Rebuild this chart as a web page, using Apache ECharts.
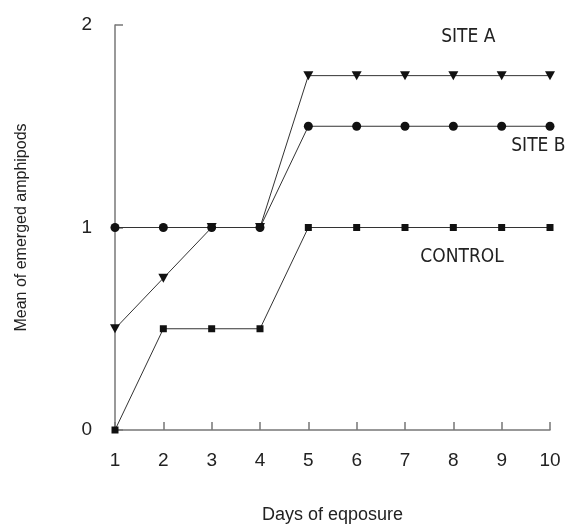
<!DOCTYPE html>
<html>
<head>
<meta charset="utf-8">
<script src="https://cdn.jsdelivr.net/npm/echarts@6/dist/echarts.min.js"></script>
<style>
  html, body { margin: 0; padding: 0; background: #fff; }
  #chart { width: 568px; height: 525px; }
</style>
</head>
<body>
<div id="chart"></div>
<script>
const days = [1, 2, 3, 4, 5, 6, 7, 8, 9, 10];
const siteA = [0.5, 0.75, 1, 1, 1.75, 1.75, 1.75, 1.75, 1.75, 1.75];
const siteB = [1, 1, 1, 1, 1.5, 1.5, 1.5, 1.5, 1.5, 1.5];
const control = [0, 0.5, 0.5, 0.5, 1, 1, 1, 1, 1, 1];
const yTicks = [0, 1, 2];

// text labels, placed in data coordinates
const seriesNames = [
    { text: 'SITE A', coord: [8.31, 1.94] },
    { text: 'SITE B', coord: [9.76, 1.4] },
    { text: 'CONTROL', coord: [8.18, 0.855] }
];

const lineColor = '#333';
const font = '"Liberation Sans", Arial, sans-serif';
const narrowFont = '"Liberation Sans Narrow", "DejaVu Sans Condensed", "Liberation Sans", sans-serif';

function pairs(values) {
    return days.map((d, i) => [d, values[i]]);
}

function makeSeries(name, values, symbol, size, rotate) {
    return {
        name: name,
        type: 'line',
        data: pairs(values),
        symbol: symbol,
        symbolSize: size,
        symbolRotate: rotate || 0,
        showAllSymbol: true,
        lineStyle: { color: lineColor, width: 1 },
        itemStyle: { color: '#111' },
        animation: false,
        z: 3
    };
}

const chart = echarts.init(document.getElementById('chart'));
const option = {
    backgroundColor: '#fff',
    grid: { left: 115, right: 18, top: 25, bottom: 95, outerBoundsMode: 'none' },
    xAxis: {
        type: 'value',
        min: 1,
        max: 10,
        interval: 1,
        name: 'Days of eqposure',
        nameLocation: 'middle',
        nameGap: 76,
        nameTextStyle: { fontFamily: font, fontSize: 18, color: '#222' },
        axisLine: { lineStyle: { color: '#777', width: 1.5 } },
        axisTick: { inside: true, length: 8, lineStyle: { color: '#777', width: 1.5 } },
        axisLabel: { margin: 21, fontFamily: font, fontSize: 19, color: '#222' },
        splitLine: { show: false }
    },
    yAxis: {
        type: 'value',
        min: 0,
        max: 2,
        interval: 1,
        name: 'Mean of emerged amphipods',
        nameLocation: 'middle',
        nameGap: 85,
        nameTextStyle: { fontFamily: font, fontSize: 16, color: '#222' },
        axisLine: { show: true, lineStyle: { color: '#777', width: 1.5 } },
        axisTick: { show: true, inside: true, length: 8, lineStyle: { color: '#777', width: 1.5 } },
        axisLabel: {
            margin: 23,
            fontFamily: font,
            fontSize: 19,
            color: '#222',
            formatter: v => (yTicks.includes(v) ? String(v) : '')
        },
        splitLine: { show: false }
    },
    series: [
        makeSeries('SITE A', siteA, 'triangle', [10, 9], 180),
        makeSeries('SITE B', siteB, 'circle', 9),
        makeSeries('CONTROL', control, 'rect', 7),
        {
            type: 'scatter',
            data: [],
            silent: true,
            animation: false,
            markPoint: {
                symbol: 'circle',
                symbolSize: 0,
                animation: false,
                label: {
                    show: true,
                    position: 'inside',
                    fontFamily: narrowFont,
                    fontSize: 19,
                    color: '#222',
                    formatter: p => p.name
                },
                data: seriesNames.map(s => ({ name: s.text, coord: s.coord }))
            }
        }
    ]
};
chart.setOption(option);
</script>
</body>
</html>
